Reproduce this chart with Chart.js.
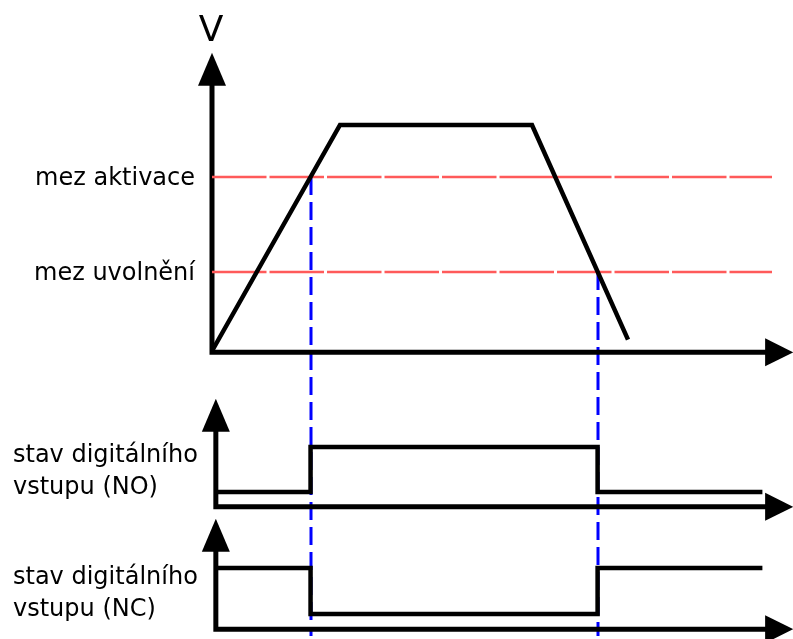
<!DOCTYPE html>
<html><head><meta charset="utf-8">
<script src="https://cdn.jsdelivr.net/npm/chart.js@4/dist/chart.umd.min.js"></script>
<style>html,body{margin:0;padding:0;background:#fff;overflow:hidden}#wrap{position:relative;width:793px;height:639px}</style>
</head><body><div id="wrap"><canvas id="c" width="793" height="639"></canvas></div>
<script>
// ---- data ----
const timePoints = [0, 4, 10, 13];
const voltage = [0, 100, 100, 5];
const thresholdNames = ['mez aktivace', 'mez uvolnění'];
const thresholdValues = [77, 35];
const thresholdEnd = 17.5;
const switchTimes = [3.08, 12.05];
const stateTimes = [0.12, 3.08, 3.08, 12.05, 12.05, 17.2];
const stateNO = [0, 0, 1, 1, 0, 0];
const stateNC = [1, 1, 0, 0, 1, 1];
const signalNames = [['stav digitálního', 'vstupu (NO)'], ['stav digitálního', 'vstupu (NC)']];
const axisTitle = 'V';

// ---- layout (pixels / axis extents) ----
const W = 793, H = 639;
function span(v1, p1, v2, p2, size) { const k = (p2 - p1) / (v2 - v1); return { at0: v1 + (0 - p1) / k, atEnd: v1 + (size - p1) / k }; }
const sx = span(0, 212, 10, 532, W);
const sV = span(0, 351, 100, 125, H);
const sNO = span(0, 492, 1, 447, H);
const sNC = span(0, 614, 1, 568, H);
const AX = { vTop: 132, tEnd: 18.16, lowerT: 0.12, sigBottom: -0.33, sigTop: 2.07 };
const FONT = '"DejaVu Sans", sans-serif';

const pts = (xs, ys) => xs.map((x, i) => ({ x, y: ys[i] }));

const datasets = [
  { data: pts(timePoints, voltage), yAxisID: 'yV', borderColor: '#000', borderWidth: 4.5, order: 0 },
  { data: pts(stateTimes, stateNO), yAxisID: 'yNO', borderColor: '#000', borderWidth: 4.5, order: 0 },
  { data: pts(stateTimes, stateNC), yAxisID: 'yNC', borderColor: '#000', borderWidth: 4.5, order: 0 }
];
thresholdValues.forEach(v => datasets.push({
  data: [{ x: 0, y: v }, { x: thresholdEnd, y: v }], yAxisID: 'yV',
  borderColor: '#ff5a5a', borderWidth: 2.5, borderDash: [54.5, 3], order: 2
}));

function arrowUp(ctx, x, tip, len, hw) { ctx.beginPath(); ctx.moveTo(x, tip); ctx.lineTo(x + hw, tip + len); ctx.lineTo(x - hw, tip + len); ctx.closePath(); ctx.fill(); }
function arrowRight(ctx, tip, y, len, hh) { ctx.beginPath(); ctx.moveTo(tip, y); ctx.lineTo(tip - len, y - hh); ctx.lineTo(tip - len, y + hh); ctx.closePath(); ctx.fill(); }

const decor = {
  id: 'decor',
  beforeDatasetsDraw(chart) {
    const { ctx, scales } = chart;
    const x = scales.x, yV = scales.yV;
    ctx.save();
    // blue switching markers
    ctx.strokeStyle = '#0000ff'; ctx.lineWidth = 3; ctx.setLineDash([18, 7]);
    switchTimes.forEach((t, i) => {
      const px = Math.round(x.getPixelForValue(t));
      ctx.beginPath(); ctx.moveTo(px, yV.getPixelForValue(thresholdValues[i])); ctx.lineTo(px, chart.chartArea.bottom - 3); ctx.stroke();
    });
    ctx.setLineDash([]);
    // axes
    ctx.strokeStyle = '#000'; ctx.fillStyle = '#000'; ctx.lineWidth = 5; ctx.lineJoin = 'miter'; ctx.lineCap = 'butt';
    const tipX = x.getPixelForValue(AX.tEnd);
    const drawAxes = (ax, yScale, bottomVal, topVal) => {
      const x0 = x.getPixelForValue(ax);
      const y0 = yScale.getPixelForValue(bottomVal);
      const yTip = yScale.getPixelForValue(topVal);
      ctx.beginPath(); ctx.moveTo(x0, yTip + 30); ctx.lineTo(x0, y0); ctx.lineTo(tipX - 26, y0); ctx.stroke();
      arrowUp(ctx, x0, yTip, 33, 14);
      arrowRight(ctx, tipX, y0, 28, 14);
    };
    drawAxes(0, yV, -0.6, AX.vTop);
    drawAxes(AX.lowerT, scales.yNO, AX.sigBottom, AX.sigTop);
    drawAxes(AX.lowerT, scales.yNC, AX.sigBottom, AX.sigTop);
    ctx.restore();
  },
  afterDatasetsDraw(chart) {
    const { ctx, scales } = chart;
    const x = scales.x, yV = scales.yV;
    ctx.save();
    ctx.fillStyle = '#000';
    ctx.textBaseline = 'alphabetic';
    // V title
    ctx.font = '36px ' + FONT; ctx.textAlign = 'center';
    ctx.fillText(axisTitle, x.getPixelForValue(0) - 1, yV.getPixelForValue(AX.vTop) - 12);
    // thresholds
    ctx.font = '24px ' + FONT; ctx.textAlign = 'right';
    thresholdNames.forEach((n, i) => ctx.fillText(n, 195, yV.getPixelForValue(thresholdValues[i]) + 8));
    // signal names
    ctx.textAlign = 'left';
    [scales.yNO, scales.yNC].forEach((ys, i) => {
      const base = ys.getPixelForValue(0);
      ctx.fillText(signalNames[i][0], 13, base - 30);
      ctx.fillText(signalNames[i][1], 13, base + 2);
    });
    ctx.restore();
  }
};

new Chart(document.getElementById('c'), {
  type: 'line',
  data: { datasets },
  options: {
    responsive: false, animation: false, devicePixelRatio: 1,
    layout: { padding: 0 },
    elements: { point: { radius: 0, hoverRadius: 0 }, line: { tension: 0, borderJoinStyle: 'miter', borderCapStyle: 'butt' } },
    plugins: { legend: { display: false }, tooltip: { enabled: false } },
    events: [],
    scales: {
      x: { type: 'linear', display: false, min: sx.at0, max: sx.atEnd },
      yV: { type: 'linear', display: false, min: sV.atEnd, max: sV.at0 },
      yNO: { type: 'linear', display: false, min: sNO.atEnd, max: sNO.at0 },
      yNC: { type: 'linear', display: false, min: sNC.atEnd, max: sNC.at0 }
    }
  },
  plugins: [decor]
});
</script></body></html>
